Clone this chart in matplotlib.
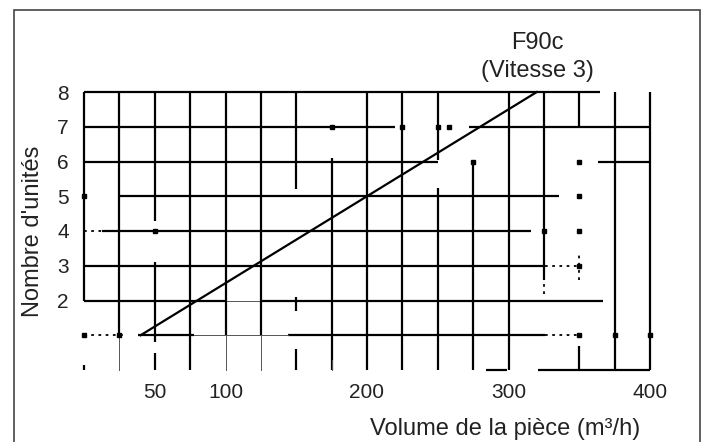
import numpy as np
import matplotlib
matplotlib.use('Agg')
import matplotlib.pyplot as plt
from matplotlib.patches import Rectangle

plt.rcParams['font.family'] = ['Liberation Sans', 'DejaVu Sans']

# Courbe F90c : nombre d'unites en fonction du volume
volume = [40, 320]
unites = [1, 8]

x_ticks = [50, 100, 200, 300, 400]
y_ticks = [2, 3, 4, 5, 6, 7, 8]

# grille scannee : morceaux de lignes encore visibles
h_lines = {
    8: [(0, 365)],
    7: [(0, 220), (272, 400)],
    6: [(0, 250), (363, 400)],
    5: [(24, 336)],
    4: [(13, 316)],
    3: [(0, 326)],
    2: [(0, 100), (125, 367)],
    1: [(38, 78), (144, 326)],
    0: [(321, 400), (284, 299)],
}
h_thin = {2: [(100, 125)], 1: [(78, 144)]}

v_lines = {
    0: [(2, 8), (0, 0.15)],
    25: [(1, 8)],
    50: [(4.3, 8), (0.8, 3.1), (0, 0.5)],
    75: [(0, 8)],
    100: [(1, 8)],
    125: [(1, 8)],
    150: [(5.2, 8), (1.7, 2.1), (0, 0.6)],
    175: [(0, 6.1)],
    200: [(0, 8)],
    225: [(0, 8)],
    250: [(6.05, 8), (0, 5.25)],
    275: [(0, 6.0)],
    300: [(0, 8)],
    325: [(2.6, 8)],
    350: [(7, 8), (0, 0.7)],
    375: [(0, 8)],
    400: [(0, 8)],
}
v_thin = {25: [(0, 1)], 100: [(0, 1)], 125: [(0, 1)], 175: [(0, 0.3)]}

# traits pointilles et points isoles
dot_x = [0, 0, 25, 50, 175, 225, 250, 258, 275, 350, 350, 325, 350, 350, 375, 350, 400]
dot_y = [1, 5, 1, 4, 7, 7, 7, 7, 6, 6, 5, 4, 4, 3, 1, 1, 1]
dotted_h = {3: [(326, 350)], 1: [(326, 350), (0, 30)], 4: [(0, 13)]}
dotted_v = {350: [(2.6, 3.3)], 325: [(2.2, 2.6)]}

fig = plt.figure(figsize=(7.06, 4.42), dpi=100)
ax = fig.add_axes([84 / 706, 1 - 370 / 442, (650 - 84) / 706, (370 - 92) / 442])

lw = 1.6
for y, segs in h_lines.items():
    for a, b in segs:
        ax.plot([a, b], [y, y], color='black', lw=lw, clip_on=False, solid_capstyle='butt')
for y, segs in h_thin.items():
    for a, b in segs:
        ax.plot([a, b], [y, y], color='#555555', lw=0.7, clip_on=False)
for x, segs in v_lines.items():
    for a, b in segs:
        ax.plot([x, x], [a, b], color='black', lw=lw, clip_on=False, solid_capstyle='butt')
for x, segs in v_thin.items():
    for a, b in segs:
        ax.plot([x, x], [a, b], color='#555555', lw=0.7, clip_on=False)
for y, segs in dotted_h.items():
    for a, b in segs:
        ax.plot([a, b], [y, y], color='black', lw=1.3, ls=(0, (1.5, 2.5)), clip_on=False)
for x, segs in dotted_v.items():
    for a, b in segs:
        ax.plot([x, x], [a, b], color='black', lw=1.3, ls=(0, (1.5, 2.5)), clip_on=False)
ax.plot(dot_x, dot_y, 's', color='black', ms=2.2, clip_on=False)

# la droite
ax.plot(volume, unites, color='black', lw=1.6, clip_on=False)

ax.set_xlim(0, 400)
ax.set_ylim(0, 8)
ax.set_xticks(x_ticks)
ax.set_yticks(y_ticks)
ax.tick_params(length=0, labelsize=15, colors='#222222')
ax.tick_params(axis='x', pad=9)
ax.tick_params(axis='y', pad=11)
for s in ax.spines.values():
    s.set_visible(False)

fig.text(537 / 706, 1 - 43 / 442, 'F90c', ha='center', va='center', fontsize=17, color='#222222')
fig.text(537 / 706, 1 - 71 / 442, '(Vitesse 3)', ha='center', va='center', fontsize=17, color='#222222')
fig.text(640 / 706, 1 - 429 / 442, 'Volume de la pièce (m³/h)', ha='right', va='center',
         fontsize=17, color='#222222')
fig.text(33 / 706, 1 - 231 / 442, "Nombre d'unités", ha='center', va='center', rotation=90,
         fontsize=17, color='#222222')

# cadre
fig.patches.append(Rectangle((14 / 706, -0.05), (700 - 14) / 706, 1.05 - 10 / 442,
                             transform=fig.transFigure, fill=False, edgecolor='#444444', lw=1.2))

fig.savefig('out.png', dpi=100)
